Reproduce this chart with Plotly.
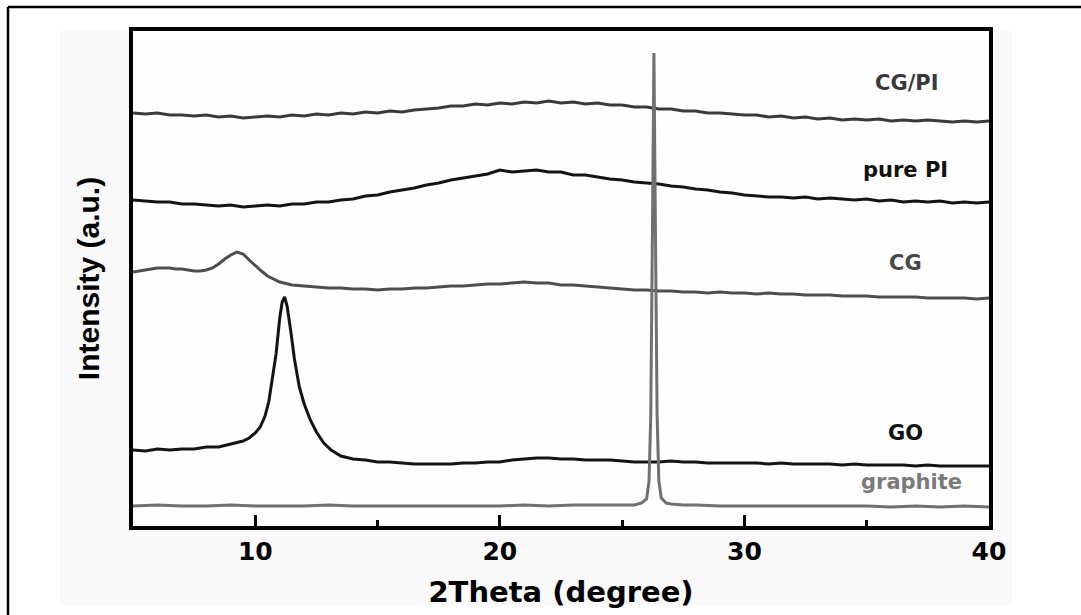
import plotly.graph_objects as go

# ---------------- data (2Theta in degrees, intensity in a.u.) ----------------
cgpi_x = [5.0, 5.5, 6.0, 6.5, 7.0, 7.5, 8.0, 8.5, 9.0, 9.5, 10.0, 10.5, 11.0, 11.5, 12.0, 12.5,
          13.0, 13.5, 14.0, 14.5, 15.0, 15.5, 16.0, 16.5, 17.0, 17.5, 18.0, 18.5, 19.0, 19.5,
          20.0, 20.5, 21.0, 21.5, 22.0, 22.5, 23.0, 23.5, 24.0, 24.5, 25.0, 25.5, 26.0, 26.5,
          27.0, 27.5, 28.0, 28.5, 29.0, 29.5, 30.0, 30.5, 31.0, 31.5, 32.0, 32.5, 33.0, 33.5,
          34.0, 34.5, 35.0, 35.5, 36.0, 36.5, 37.0, 37.5, 38.0, 38.5, 39.0, 39.5, 40.0]
cgpi_y = [413, 412, 413, 411, 411, 410, 411, 409, 410, 408, 409, 410, 409, 411, 410, 412,
          411, 413, 412, 414, 413, 415, 414, 416, 417, 418, 420, 420, 422, 421,
          423, 422, 424, 423, 425, 423, 424, 422, 423, 421, 421, 419, 419, 417,
          417, 415, 415, 413, 413, 412, 411, 411, 409, 410, 408, 409, 407, 408,
          406, 407, 406, 407, 405, 406, 405, 406, 405, 404, 405, 404, 405]

pi_x = [5.0, 5.5, 6.0, 6.5, 7.0, 7.5, 8.0, 8.5, 9.0, 9.5, 10.0, 10.5, 11.0, 11.5, 12.0, 12.5,
        13.0, 13.5, 14.0, 14.5, 15.0, 15.5, 16.0, 16.5, 17.0, 17.5, 18.0, 18.5, 19.0, 19.5,
        20.0, 20.5, 21.0, 21.5, 22.0, 22.5, 23.0, 23.5, 24.0, 24.5, 25.0, 25.5, 26.0, 26.5,
        27.0, 27.5, 28.0, 28.5, 29.0, 29.5, 30.0, 30.5, 31.0, 31.5, 32.0, 32.5, 33.0, 33.5,
        34.0, 34.5, 35.0, 35.5, 36.0, 36.5, 37.0, 37.5, 38.0, 38.5, 39.0, 39.5, 40.0]
pi_y = [326, 325, 324, 324, 322, 322, 321, 320, 321, 319, 320, 321, 320, 322, 322, 324,
        324, 326, 327, 330, 331, 334, 336, 338, 341, 343, 346, 348, 350, 352,
        356, 354, 355, 356, 354, 354, 351, 351, 349, 347, 346, 344, 343, 342,
        340, 339, 337, 336, 334, 333, 331, 330, 329, 329, 328, 329, 327, 328,
        327, 326, 327, 325, 326, 324, 325, 324, 325, 323, 324, 323, 324]

cg_x = [5.0, 5.25, 5.5, 5.75, 6.0, 6.25, 6.5, 6.75, 7.0, 7.25, 7.5, 7.75, 8.0, 8.25, 8.5, 8.75,
        9.0, 9.25, 9.5, 9.75, 10.0, 10.25, 10.5, 10.75, 11.0, 11.5, 12.0, 12.5, 13.0, 13.5,
        14.0, 14.5, 15.0, 15.5, 16.0, 16.5, 17.0, 17.5, 18.0, 18.5, 19.0, 19.5, 20.0, 20.5,
        21.0, 21.5, 22.0, 22.5, 23.0, 23.5, 24.0, 24.5, 25.0, 25.5, 26.0, 26.5, 27.0, 27.5,
        28.0, 28.5, 29.0, 29.5, 30.0, 30.5, 31.0, 31.5, 32.0, 32.5, 33.0, 33.5, 34.0, 34.5,
        35.0, 35.5, 36.0, 36.5, 37.0, 37.5, 38.0, 38.5, 39.0, 39.5, 40.0]
cg_y = [254, 255, 256, 257, 258, 258, 258, 257, 257, 256, 255, 255, 256, 258, 262, 267,
        271, 274, 272, 266, 260, 255, 250, 247, 244, 241, 240, 239, 238, 238,
        237, 237, 236, 237, 237, 238, 238, 239, 240, 240, 241, 242, 242, 243,
        244, 243, 243, 241, 241, 240, 239, 238, 237, 236, 236, 235, 235, 234,
        234, 233, 234, 233, 233, 232, 233, 232, 232, 231, 231, 231, 230, 230,
        230, 229, 229, 229, 229, 228, 228, 228, 228, 227, 228]

go_x = [5.0, 5.5, 6.0, 6.5, 7.0, 7.5, 8.0, 8.5, 9.0, 9.5, 9.75, 10.0, 10.2, 10.4, 10.55, 10.7,
        10.85, 11.0, 11.1, 11.2, 11.3, 11.45, 11.6, 11.8, 12.0, 12.25, 12.5, 12.8, 13.1, 13.5,
        14.0, 14.5, 15.0, 15.5, 16.0, 16.5, 17.0, 17.5, 18.0, 18.5, 19.0, 19.5, 20.0, 20.5,
        21.0, 21.5, 22.0, 22.5, 23.0, 23.5, 24.0, 24.5, 25.0, 25.5, 26.0, 26.5, 27.0, 27.5,
        28.0, 28.5, 29.0, 29.5, 30.0, 30.5, 31.0, 31.5, 32.0, 32.5, 33.0, 33.5, 34.0, 34.5,
        35.0, 35.5, 36.0, 36.5, 37.0, 37.5, 38.0, 38.5, 39.0, 39.5, 40.0]
go_y = [76, 75, 77, 76, 77, 77, 79, 79, 82, 85, 88, 93, 99, 110, 124, 146,
        172, 208, 224, 229, 220, 195, 167, 139, 122, 106, 94, 83, 76, 70,
        67, 66, 64, 64, 63, 62, 62, 62, 62, 63, 63, 64, 64, 66,
        67, 68, 68, 67, 67, 66, 66, 66, 65, 64, 64, 64, 65, 64,
        64, 63, 63, 63, 63, 63, 62, 63, 62, 62, 62, 62, 61, 62,
        61, 61, 61, 61, 60, 61, 60, 60, 60, 60, 60]

graphite_x = [5.0, 6.0, 7.0, 8.0, 9.0, 10.0, 11.0, 12.0, 13.0, 14.0, 15.0, 16.0, 17.0, 18.0,
              19.0, 20.0, 21.0, 22.0, 23.0, 24.0, 25.0, 25.5, 25.8, 26.0, 26.1, 26.17, 26.24,
              26.3, 26.36, 26.43, 26.5, 26.6, 26.8, 27.0, 27.5, 28.0, 29.0, 30.0, 31.0, 32.0,
              33.0, 34.0, 35.0, 36.0, 37.0, 38.0, 39.0, 40.0]
graphite_y = [20, 21, 20, 20, 21, 20, 20, 20, 21, 20, 20, 20, 20, 20,
              20, 20, 21, 20, 21, 21, 21, 21, 23, 27, 45, 110, 300,
              473, 300, 110, 45, 28, 23, 22, 21, 21, 20, 20, 20, 20,
              20, 20, 20, 19, 20, 19, 20, 19]

series_names = ["CG/PI", "pure PI", "CG", "GO", "graphite"]
label_x = [36.65, 36.6, 36.6, 36.6, 36.85]
label_y = [443, 356, 263, 93, 44]

x_tickvals = [10, 20, 30, 40]
x_minor_tickvals = [15, 25, 35]

# ---------------- styling ----------------
line_colors = ["#3a3a3a", "#141414", "#4e4e4e", "#141414", "#707070"]
text_colors = ["#3a3a3a", "#111111", "#474747", "#111111", "#7a7a7a"]

xs = [cgpi_x, pi_x, cg_x, go_x, graphite_x]
ys = [cgpi_y, pi_y, cg_y, go_y, graphite_y]

fig = go.Figure()
for name, x, y, c in zip(series_names, xs, ys, line_colors):
    fig.add_trace(go.Scatter(x=x, y=y, mode="lines", name=name,
                             line=dict(color=c, width=3), showlegend=False))

for name, lx, ly, c in zip(series_names, label_x, label_y, text_colors):
    fig.add_annotation(x=lx, y=ly, text=name, showarrow=False,
                       xanchor="center", yanchor="middle",
                       font=dict(family="DejaVu Sans", size=21, color=c, weight="bold"))

# plot area in pixels: left 133, right 989, top 31, bottom 526
W, H = 1081, 615
L, R, T, B = 133, 989, 31, 526
def px(xp):
    return (xp - L) / (R - L)
def py(yp):
    return (B - yp) / (B - T)

# faint grey panel behind the figure (plot interior stays white)
fig.add_shape(type="rect", xref="paper", yref="paper", layer="below",
              x0=px(60), x1=px(1012), y0=py(605), y1=py(31),
              fillcolor="#f9f9f9", line=dict(width=0))
fig.add_shape(type="rect", xref="paper", yref="paper", layer="below",
              x0=0, x1=1, y0=0, y1=1,
              fillcolor="#fefefe", line=dict(width=0))
# outer border: left edge and top edge
fig.add_shape(type="line", xref="paper", yref="paper",
              x0=px(8), x1=px(8), y0=py(615), y1=py(7),
              line=dict(color="black", width=2.5))
fig.add_shape(type="line", xref="paper", yref="paper",
              x0=px(8), x1=px(1081), y0=py(7), y1=py(7),
              line=dict(color="black", width=2.5))

fig.update_layout(
    width=W, height=H,
    margin=dict(l=L, r=W - R, t=T, b=H - B),
    paper_bgcolor="white",
    plot_bgcolor="white",
    showlegend=False,
)

fig.update_xaxes(
    range=[5, 40],
    tickvals=x_tickvals,
    ticktext=[str(v) for v in x_tickvals],
    ticks="inside", ticklen=11, tickwidth=3, tickcolor="black",
    minor=dict(tickvals=x_minor_tickvals, ticks="inside", ticklen=6, tickwidth=3,
               tickcolor="black", showgrid=False),
    showline=True, linewidth=4, linecolor="black", mirror=True,
    showgrid=False, zeroline=False,
    tickfont=dict(family="DejaVu Sans", size=25, color="black", weight="bold"),
    title=dict(text="2Theta (degree)", standoff=18,
               font=dict(family="DejaVu Sans", size=29, color="black", weight="bold")),
)

fig.update_yaxes(
    range=[0, 495],
    showticklabels=False, ticks="",
    showline=True, linewidth=4, linecolor="black", mirror=True,
    showgrid=False, zeroline=False,
    title=dict(text="Intensity (a.u.)", standoff=22,
               font=dict(family="Liberation Sans", size=30, color="black", weight="bold")),
)

fig.write_html("out.html")
